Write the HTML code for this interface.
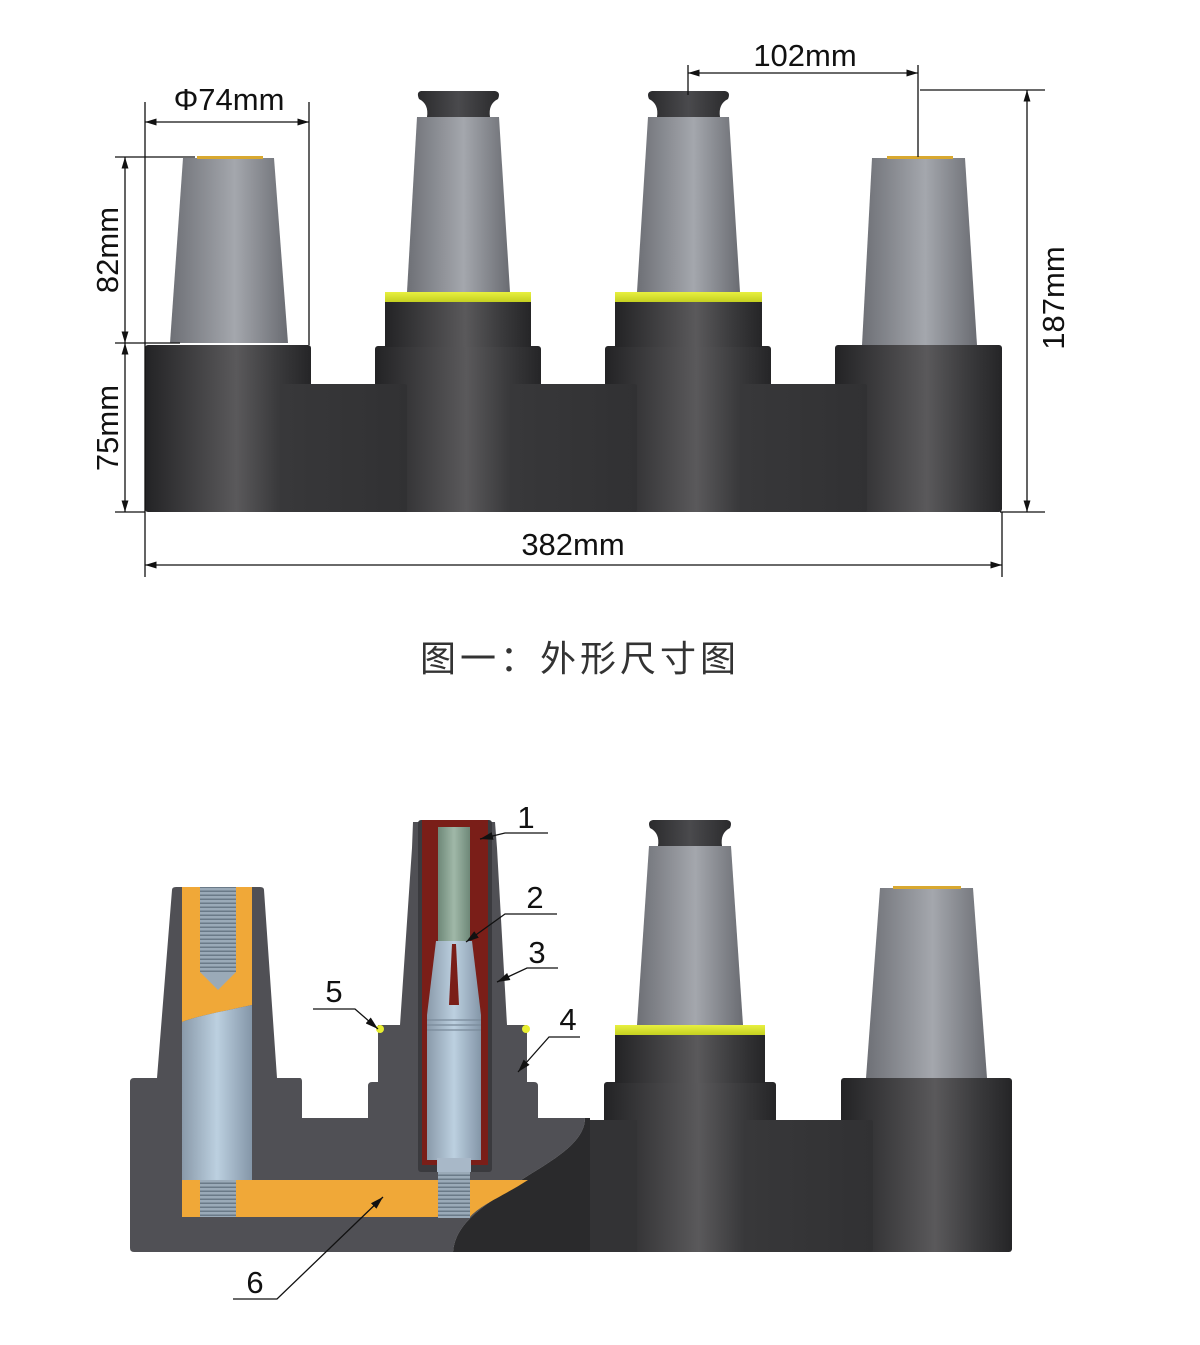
<!DOCTYPE html>
<html><head><meta charset="utf-8"><style>html,body{margin:0;padding:0;background:#fff}svg{display:block}</style></head>
<body>
<svg width="1200" height="1345" viewBox="0 0 1200 1345" xmlns="http://www.w3.org/2000/svg" font-family="Liberation Sans, sans-serif">
<defs>
<linearGradient id="cyl" x1="0" x2="1" y1="0" y2="0">
<stop offset="0" stop-color="#232325"/><stop offset="0.55" stop-color="#5a595b"/><stop offset="0.8" stop-color="#3a3a3c"/><stop offset="1" stop-color="#252527"/></linearGradient>
<linearGradient id="blk" x1="0" x2="1"><stop offset="0" stop-color="#38383a"/><stop offset="1" stop-color="#313133"/></linearGradient>
<linearGradient id="cone" x1="0" x2="1"><stop offset="0" stop-color="#6e7076"/><stop offset="0.55" stop-color="#a4a7ad"/><stop offset="1" stop-color="#6a6c72"/></linearGradient>
<linearGradient id="cap" x1="0" x2="1"><stop offset="0" stop-color="#2a2a2c"/><stop offset="0.5" stop-color="#4a4a4d"/><stop offset="1" stop-color="#2a2a2c"/></linearGradient>
<linearGradient id="yel" x1="0" x2="0" y1="0" y2="1"><stop offset="0" stop-color="#e8f040"/><stop offset="1" stop-color="#c4d020"/></linearGradient>
<linearGradient id="rod" x1="0" x2="1"><stop offset="0" stop-color="#8a9aaa"/><stop offset="0.5" stop-color="#bcd0e0"/><stop offset="1" stop-color="#8496a8"/></linearGradient>
<linearGradient id="grn" x1="0" x2="1"><stop offset="0" stop-color="#6e8878"/><stop offset="0.5" stop-color="#a0b8a8"/><stop offset="1" stop-color="#6e8878"/></linearGradient>
<marker id="ar" viewBox="0 0 10 10" refX="10" refY="5" markerWidth="9" markerHeight="9" orient="auto-start-reverse"><path d="M0,2 L10,5 L0,8 z" fill="#111"/></marker>
<marker id="ar2" viewBox="0 0 10 10" refX="10" refY="5" markerWidth="10" markerHeight="10" orient="auto"><path d="M0,2 L10,5 L0,8 z" fill="#111"/></marker>
<pattern id="thr" width="6" height="4" patternUnits="userSpaceOnUse"><rect width="6" height="4" fill="#9aaab8"/><rect y="2.5" width="6" height="1.5" fill="#6a7a88"/></pattern>
</defs>

<!-- ============ TOP FIGURE ============ -->
<rect x="145" y="345" width="166" height="167" rx="3" fill="url(#cyl)"/>
<polygon points="183,158 274,158 288,343 170,343" fill="url(#cone)"/>
<rect x="197" y="156" width="66" height="3" fill="#d8a830"/>
<rect x="375" y="346" width="166" height="166" rx="3" fill="url(#cyl)"/>
<rect x="385" y="301" width="146" height="46" fill="url(#cyl)"/>
<rect x="385" y="292" width="146" height="10" fill="url(#yel)"/>
<polygon points="417,117 499,117 510,292 407,292" fill="url(#cone)"/>
<path d="M421,91 L495,91 Q501,92 498,99 Q488,104 490,117 L427,117 Q429,104 419,99 Q416,92 421,91z" fill="url(#cap)"/>
<rect x="605" y="346" width="166" height="166" rx="3" fill="url(#cyl)"/>
<rect x="615" y="301" width="147" height="46" fill="url(#cyl)"/>
<rect x="615" y="292" width="147" height="10" fill="url(#yel)"/>
<polygon points="648,117 729,117 740,292 637,292" fill="url(#cone)"/>
<path d="M652,91 L725,91 Q731,92 728,99 Q718,104 720,117 L657,117 Q659,104 649,99 Q646,92 652,91z" fill="url(#cap)"/>
<rect x="835" y="345" width="167" height="167" rx="3" fill="url(#cyl)"/>
<polygon points="872,158 965,158 977,345 862,345" fill="url(#cone)"/>
<rect x="887" y="156" width="66" height="3" fill="#d8a830"/>
<!-- connectors in front -->
<rect x="281" y="384" width="126" height="128" rx="2" fill="url(#blk)"/>
<rect x="511" y="384" width="126" height="128" rx="2" fill="url(#blk)"/>
<rect x="741" y="384" width="126" height="128" rx="2" fill="url(#blk)"/>

<g stroke="#111" stroke-width="1.3" fill="none">
<line x1="145" y1="102" x2="145" y2="577"/>
<line x1="309" y1="102" x2="309" y2="345"/>
<line x1="145" y1="122" x2="309" y2="122" marker-start="url(#ar)" marker-end="url(#ar)"/>
<line x1="115" y1="157" x2="195" y2="157"/>
<line x1="115" y1="343" x2="180" y2="343"/>
<line x1="115" y1="512" x2="145" y2="512"/>
<line x1="125" y1="157" x2="125" y2="343" marker-start="url(#ar)" marker-end="url(#ar)"/>
<line x1="125" y1="343" x2="125" y2="512" marker-start="url(#ar)" marker-end="url(#ar)"/>
<line x1="688" y1="65" x2="688" y2="95"/>
<line x1="918" y1="65" x2="918" y2="157"/>
<line x1="688" y1="73" x2="918" y2="73" marker-start="url(#ar)" marker-end="url(#ar)"/>
<line x1="920" y1="90" x2="1045" y2="90"/>
<line x1="1000" y1="512" x2="1045" y2="512"/>
<line x1="1027" y1="90" x2="1027" y2="512" marker-start="url(#ar)" marker-end="url(#ar)"/>
<line x1="1002" y1="512" x2="1002" y2="577"/>
<line x1="145" y1="565" x2="1002" y2="565" marker-start="url(#ar)" marker-end="url(#ar)"/>
</g>
<g fill="#111" font-size="31">
<text x="229" y="110" text-anchor="middle">Φ74mm</text>
<text x="805" y="66" text-anchor="middle">102mm</text>
<text x="573" y="555" text-anchor="middle">382mm</text>
<text transform="translate(118,250) rotate(-90)" text-anchor="middle">82mm</text>
<text transform="translate(118,428) rotate(-90)" text-anchor="middle">75mm</text>
<text transform="translate(1064,298) rotate(-90)" text-anchor="middle">187mm</text>
</g>
<text x="580" y="671" text-anchor="middle" font-size="36" fill="#333" font-family="Liberation Sans, Noto Sans CJK SC, sans-serif" letter-spacing="4">图一：外形尺寸图</text>

<!-- ============ BOTTOM FIGURE ============ -->
<rect x="604" y="1082" width="172" height="170" rx="3" fill="url(#cyl)"/>
<rect x="615" y="1035" width="150" height="48" fill="url(#cyl)"/>
<rect x="615" y="1025" width="150" height="10" fill="url(#yel)"/>
<polygon points="649,846 731,846 743,1025 637,1025" fill="url(#cone)"/>
<path d="M653,820 L727,820 Q733,821 730,828 Q720,833 722,846 L658,846 Q660,833 650,828 Q647,821 653,820z" fill="url(#cap)"/>
<rect x="841" y="1078" width="171" height="174" rx="3" fill="url(#cyl)"/>
<polygon points="880,888 973,888 987,1078 866,1078" fill="url(#cone)"/>
<rect x="893" y="886" width="68" height="3" fill="#d8a830"/>
<rect x="744" y="1120" width="129" height="132" rx="2" fill="url(#blk)"/>
<rect x="585" y="1120" width="52" height="132" fill="#333335"/>

<path d="M130,1082 Q130,1078 134,1078 L157,1078 L172,890 Q172,887 176,887 L260,887 Q264,887 264,890 L277,1078 L300,1078 Q302,1078 302,1082 L302,1118 L368,1118 L368,1086 Q368,1082 372,1082 L378,1082 L378,1025 L400,1025 L412,848 L413,822 L495,822 L497,848 L507,1025 L527,1025 L527,1082 L534,1082 Q538,1082 538,1086 L538,1118 L585,1118 C585,1150 530,1170 500,1195 C470,1215 455,1230 453,1252 L134,1252 Q130,1252 130,1248 Z" fill="#505055"/>
<path d="M585,1118 L590,1118 L590,1252 L453,1252 C455,1230 470,1215 500,1195 C530,1170 585,1150 585,1118Z" fill="#2a2a2c"/>
<path d="M182,887 L252,887 L252,1005 C230,1010 200,1015 182,1022 Z" fill="#f0a838"/>
<rect x="200" y="887" width="36" height="85" fill="url(#thr)"/>
<polygon points="200,972 236,972 218,990" fill="#9aaab8"/>
<path d="M182,1022 C200,1015 230,1010 252,1005 L252,1180 L182,1180Z" fill="url(#rod)"/>
<path d="M182,1180 L528,1180 C505,1195 480,1205 470,1217 L182,1217Z" fill="#f0a838"/>
<rect x="200" y="1180" width="36" height="37" fill="url(#thr)"/>
<rect x="418" y="820" width="74" height="352" rx="3" fill="#3a3a3e"/>
<rect x="422" y="820" width="66" height="345" fill="#7a1e18"/>
<rect x="438" y="827" width="32" height="114" fill="url(#grn)"/>
<polygon points="436,941 472,941 481,1015 427,1015" fill="url(#rod)"/>
<polygon points="452,944 456,944 459,1005 449,1005" fill="#7a1e18"/>
<rect x="427" y="1015" width="54" height="145" fill="url(#rod)"/>
<g stroke="#7a8a9a" stroke-width="1.2"><line x1="427" y1="1020" x2="481" y2="1020"/><line x1="427" y1="1025" x2="481" y2="1025"/><line x1="427" y1="1030" x2="481" y2="1030"/></g>
<rect x="437" y="1158" width="34" height="14" fill="#a8b8c8"/>
<rect x="438" y="1172" width="32" height="46" fill="url(#thr)"/>
<circle cx="380" cy="1029" r="4" fill="#e8ee30"/>
<circle cx="526" cy="1029" r="4" fill="#e8ee30"/>

<g stroke="#111" stroke-width="1.3" fill="none">
<polyline points="548,833 505,833 480,839" marker-end="url(#ar2)"/>
<polyline points="557,914 505,914 466,942" marker-end="url(#ar2)"/>
<polyline points="558,968 527,968 497,982" marker-end="url(#ar2)"/>
<polyline points="580,1037 549,1037 518,1072" marker-end="url(#ar2)"/>
<polyline points="313,1009 355,1009 378,1029" marker-end="url(#ar2)"/>
<polyline points="233,1299 277,1299 383,1197" marker-end="url(#ar2)"/>
</g>
<g fill="#111" font-size="31">
<text x="526" y="828" text-anchor="middle">1</text>
<text x="535" y="908" text-anchor="middle">2</text>
<text x="537" y="963" text-anchor="middle">3</text>
<text x="568" y="1030" text-anchor="middle">4</text>
<text x="334" y="1002" text-anchor="middle">5</text>
<text x="255" y="1293" text-anchor="middle">6</text>
</g>
</svg>
</body></html>
